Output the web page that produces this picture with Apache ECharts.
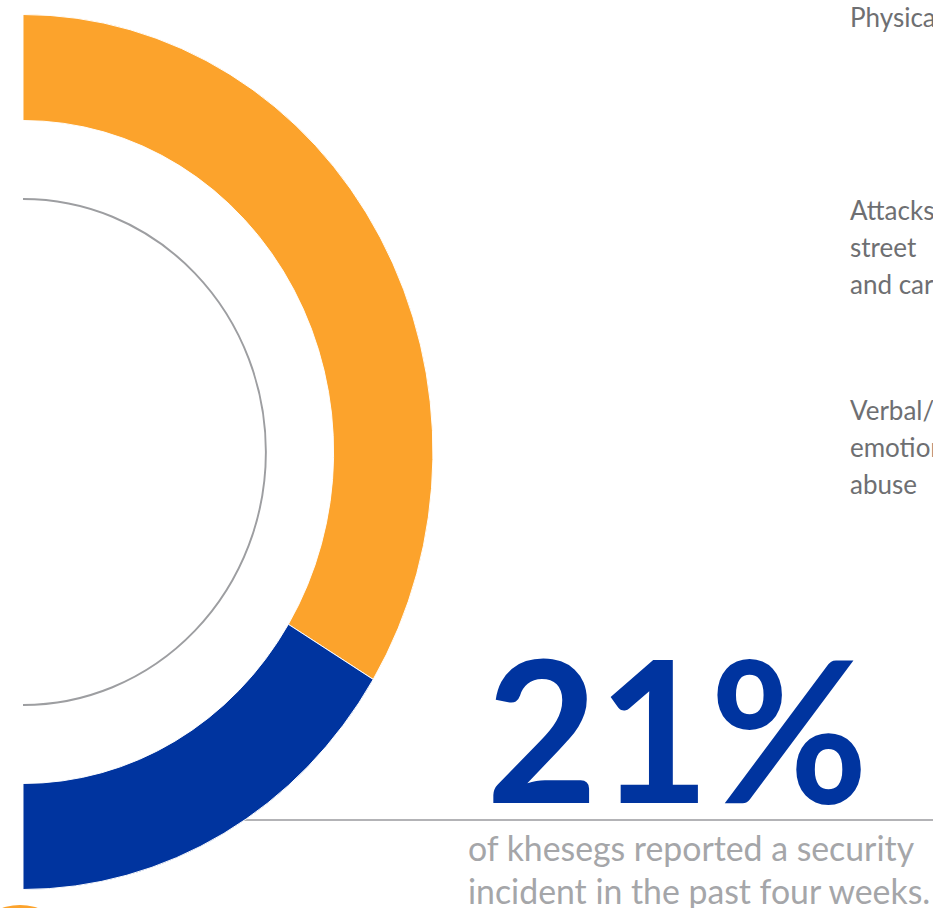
<!DOCTYPE html>
<html>
<head>
<meta charset="utf-8">
<script src="https://cdn.jsdelivr.net/npm/echarts@6/dist/echarts.min.js"></script>
<style>
  html, body { margin: 0; padding: 0; background: #ffffff; overflow: hidden; }
  #stage { position: relative; width: 933px; height: 908px; }
  #notes, #ring { position: absolute; left: 0; top: 0; width: 933px; height: 908px; }
  /* the ring is drawn slightly narrower than it is tall */
  #ring { transform: scaleX(0.937); transform-origin: 23px 0; }
</style>
</head>
<body>
<div id="stage">
  <div id="notes"></div>
  <div id="ring"></div>
</div>
<script>
// Half-ring shares (top to bottom, clockwise)
const segmentNames = ['Other', 'Incident share'];
const segmentValues = [67.4, 32.6];
const segmentColors = ['#FCA32C', '#00349F'];

// Headline figure and caption
const headline = '21%';
const captionLines = ['of khesegs reported a security', 'incident in the past four weeks.'];

// Side labels, one group per block
const sideLabels = [
  ['Physical'],
  ['Attacks on the', 'street', 'and cars'],
  ['Verbal/', 'emotional', 'abuse']
];
const sideLabelTops = [17, 210, 410];

const FONT = 'Lato, "Open Sans", sans-serif';

// ---- ring ----
const ring = echarts.init(document.getElementById('ring'), null, { renderer: 'svg' });
ring.setOption({
  animation: false,
  series: [{
    type: 'pie',
    center: [23, 452],
    radius: [331.5, 437.5],
    startAngle: 90,
    endAngle: -90,
    clockwise: true,
    silent: true,
    label: { show: false },
    labelLine: { show: false },
    itemStyle: { borderColor: '#ffffff', borderWidth: 1 },
    emphasis: { disabled: true },
    data: segmentNames.map((n, i) => ({
      name: n,
      value: segmentValues[i],
      itemStyle: { color: segmentColors[i] }
    }))
  }]
});

// ---- texts, rules and guide arc ----
const notes = echarts.init(document.getElementById('notes'), null, { renderer: 'svg' });
const elements = [];

// thin guide arc inside the ring
elements.push({
  type: 'arc',
  x: 23, y: 452,
  scaleX: 0.96,
  shape: { cx: 0, cy: 0, r: 253, startAngle: -Math.PI / 2, endAngle: Math.PI / 2, clockwise: true },
  style: { stroke: '#9D9EA1', lineWidth: 2, fill: null, strokeNoScale: true },
  silent: true
});

// small marker peeking in at the bottom-left
elements.push({
  type: 'circle',
  shape: { cx: 20, cy: 959, r: 54 },
  style: { fill: segmentColors[0] },
  silent: true
});

// rule under the headline
elements.push({
  type: 'line',
  shape: { x1: 242, y1: 820, x2: 933, y2: 820 },
  style: { stroke: '#B3B3B6', lineWidth: 2 },
  silent: true
});

// headline figure
elements.push({
  type: 'text',
  x: 486, y: 727,
  scaleX: 0.975,
  style: {
    text: headline,
    fill: segmentColors[1],
    font: 'bold 198px ' + FONT,
    verticalAlign: 'middle',
    align: 'left'
  },
  silent: true
});

// caption
captionLines.forEach((t, i) => {
  elements.push({
    type: 'text',
    x: 468, y: 848 + i * 43,
    style: {
      text: t,
      fill: '#A5A6A9',
      font: '33.8px ' + FONT,
      verticalAlign: 'middle',
      align: 'left'
    },
    silent: true
  });
});

// side labels
sideLabels.forEach((lines, b) => {
  lines.forEach((t, i) => {
    elements.push({
      type: 'text',
      x: 850, y: sideLabelTops[b] + i * 37,
      style: {
        text: t,
        fill: '#6E6F72',
        font: '26px ' + FONT,
        verticalAlign: 'middle',
        align: 'left'
      },
      silent: true
    });
  });
});

notes.setOption({ animation: false, graphic: { elements: elements } });
</script>
</body>
</html>
